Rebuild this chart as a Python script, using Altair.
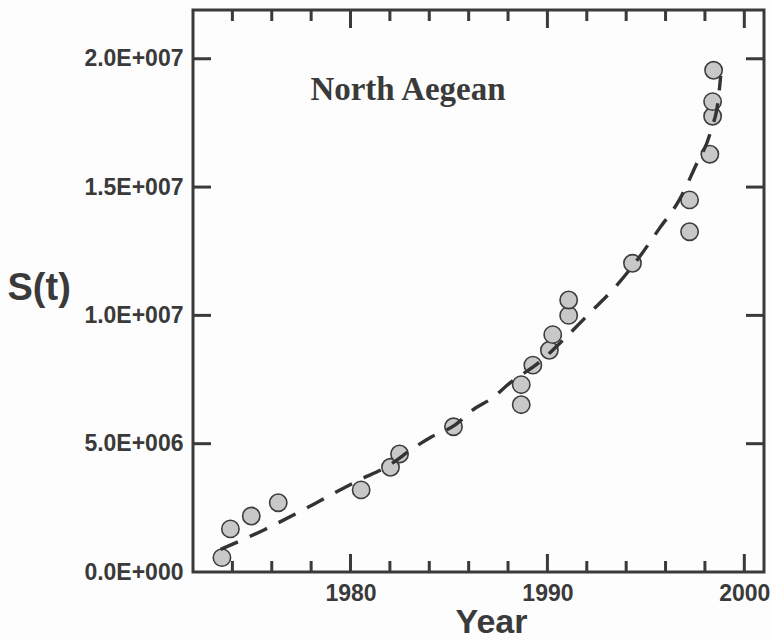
import altair as alt
import pandas as pd

# Observed S(t) values (millions) by year
obs_years = [1973.47, 1973.90, 1974.96, 1976.33, 1980.54, 1982.03, 1982.49,
             1985.23, 1988.67, 1988.67, 1989.26, 1990.10, 1990.27, 1991.08,
             1991.08, 1994.32, 1997.22, 1997.22, 1998.25, 1998.39, 1998.39,
             1998.44]
obs_values = [0.56, 1.68, 2.18, 2.70, 3.20, 4.08, 4.60,
              5.66, 7.30, 6.52, 8.06, 8.64, 9.25, 10.00,
              10.60, 12.03, 13.26, 14.50, 16.28, 17.76, 18.33,
              19.55]

# Fitted curve (millions)
fit_years = [1973.4, 1975.6, 1977.2, 1978.8, 1980.4, 1981.9, 1983.2, 1984.1,
             1985.3, 1986.2, 1987.2, 1988.1, 1989.6, 1990.9, 1992.2, 1993.5,
             1994.6, 1995.7, 1996.7, 1997.5, 1998.3, 1998.7, 1998.8]
fit_values = [0.88, 1.64, 2.26, 2.92, 3.57, 4.13, 4.83, 5.26,
              5.72, 6.31, 6.78, 7.37, 8.18, 9.12, 10.13, 11.15,
              12.20, 13.40, 14.50, 15.78, 17.19, 18.55, 19.33]

# Axis tick positions
x_major = [1980, 1990, 2000]
x_minor = [1974, 1976, 1978, 1982, 1984, 1986, 1988, 1992, 1994, 1996, 1998]
y_major = [5e6, 10e6, 15e6, 20e6]
y_labels = [0, 5e6, 10e6, 15e6, 20e6]

panel_label = ["North Aegean"]

W, H = 571, 562
INK = "#3a3a3a"
SANS = "Liberation Sans"
SERIF = "Liberation Serif"

obs = pd.DataFrame({"year": obs_years, "value": [v * 1e6 for v in obs_values]})
fit = pd.DataFrame({"year": fit_years, "value": [v * 1e6 for v in fit_values]})
xmaj = pd.DataFrame({"year": x_major})
xmin = pd.DataFrame({"year": x_minor})
ymaj = pd.DataFrame({"value": y_major})
lab = pd.DataFrame({"text": panel_label})

x_enc = alt.X(
    "year:Q",
    scale=alt.Scale(domain=[1972, 2001], nice=False, zero=False),
    axis=alt.Axis(
        values=x_major, format="d", ticks=False, domain=False, grid=False,
        labelFont=SANS, labelFontSize=23, labelFontWeight="bold",
        labelColor=INK, labelPadding=10, labelFlush=False,
        title="Year", titleFont=SANS, titleFontSize=34, titleFontWeight="bold",
        titleColor=INK, titleX=298, titleY=60, titleBaseline="alphabetic",
        titleAlign="center",
    ),
)
y_enc = alt.Y(
    "value:Q",
    scale=alt.Scale(domain=[0, 21.9e6], nice=False),
    axis=alt.Axis(
        values=y_labels, ticks=False, domain=False, grid=False,
        labelExpr=(
            "datum.value == 0 ? '0.0E+000' : "
            "format(datum.value / pow(10, floor(log(datum.value) / LN10 + 1e-9)), '.1f')"
            " + 'E+' + pad(toString(floor(log(datum.value) / LN10 + 1e-9)), 3, '0', 'left')"
        ),
        labelFont=SANS, labelFontSize=23, labelFontWeight="bold",
        labelColor=INK, labelPadding=10, labelFlush=False,
        title="S(t)", titleFont=SANS, titleFontSize=38, titleFontWeight="bold",
        titleColor=INK, titleAngle=0, titleAlign="left", titleBaseline="middle",
        titleX=-186, titleY=278,
    ),
)

tick_style = dict(color=INK, strokeWidth=3)

bottom_major = alt.Chart(xmaj).mark_rule(**tick_style).encode(
    x=x_enc, y=alt.value(H), y2=alt.value(H - 18))
bottom_minor = alt.Chart(xmin).mark_rule(**tick_style).encode(
    x=x_enc, y=alt.value(H), y2=alt.value(H - 11))
top_major = alt.Chart(xmaj).mark_rule(**tick_style).encode(
    x=x_enc, y=alt.value(0), y2=alt.value(18))
top_minor = alt.Chart(xmin).mark_rule(**tick_style).encode(
    x=x_enc, y=alt.value(0), y2=alt.value(11))
left_ticks = alt.Chart(ymaj).mark_rule(**tick_style).encode(
    y=y_enc, x=alt.value(0), x2=alt.value(18))
right_ticks = alt.Chart(ymaj).mark_rule(**tick_style).encode(
    y=y_enc, x=alt.value(W), x2=alt.value(W - 18))

points = alt.Chart(obs).mark_point(
    shape="circle", filled=True, size=300, fill="#c8c8c8", fillOpacity=1,
    stroke="#3d3d3d", strokeWidth=1.6, opacity=1,
).encode(x=x_enc, y=y_enc)

curve = alt.Chart(fit).mark_line(
    color="#333333", strokeWidth=3.4, strokeDash=[19, 13], interpolate="monotone"
).encode(x=x_enc, y=y_enc)

label = alt.Chart(lab).mark_text(
    font=SERIF, fontSize=33, fontWeight="bold",
    color=INK, align="center", baseline="alphabetic",
).encode(text="text:N", x=alt.value(215), y=alt.value(90))

chart = alt.layer(
    points, curve, bottom_major, bottom_minor, top_major, top_minor,
    left_ticks, right_ticks, label,
).properties(
    width=W, height=H,
    autosize=alt.AutoSizeParams(type="none"),
    padding={"left": 193, "top": 10, "right": 8, "bottom": 68},
    background="#fdfdfd",
).configure_view(stroke=INK, strokeWidth=3)

chart.save("out.html", embed_options={"renderer": "svg", "actions": False})
